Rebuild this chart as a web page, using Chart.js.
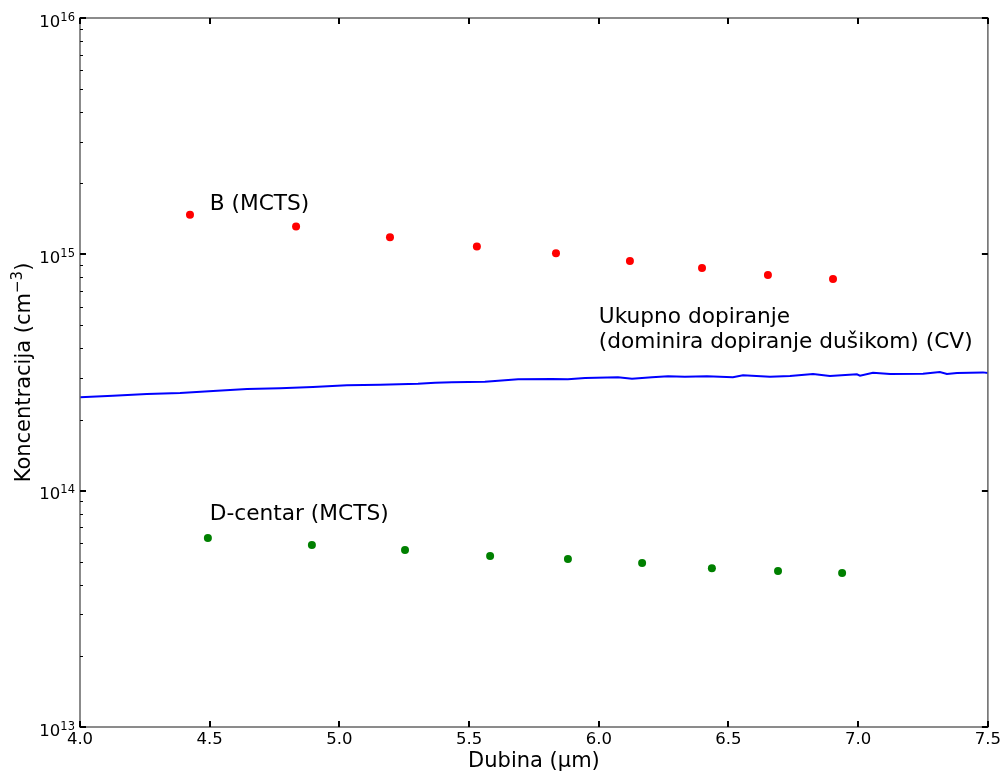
<!DOCTYPE html>
<html>
<head>
<meta charset="utf-8">
<script src="https://cdn.jsdelivr.net/npm/chart.js@4.4.1/dist/chart.umd.min.js"></script>
<style>
html,body{margin:0;padding:0;background:#fff;}
#wrap{width:1004px;height:776px;}
</style>
</head>
<body>
<div id="wrap"><canvas id="c" width="1004" height="776"></canvas></div>
<script>
// ---- data ----
const bDepth = [4.424, 4.833, 5.195, 5.530, 5.835, 6.120, 6.398, 6.652, 6.903];
const bConc  = [1.47e15, 1.31e15, 1.18e15, 1.08e15, 1.01e15, 9.37e14, 8.75e14, 8.17e14, 7.86e14];

const dDepth = [4.493, 4.894, 5.253, 5.581, 5.881, 6.167, 6.436, 6.691, 6.938];
const dConc  = [6.30e13, 5.89e13, 5.61e13, 5.29e13, 5.14e13, 4.94e13, 4.70e13, 4.57e13, 4.48e13];

const cvDepth = [4.000, 4.127, 4.258, 4.386, 4.513, 4.644, 4.771, 4.898, 5.029, 5.157,
                 5.303, 5.369, 5.434, 5.561, 5.600, 5.689, 5.820, 5.881, 5.947, 6.074,
                 6.128, 6.205, 6.267, 6.332, 6.417, 6.517, 6.556, 6.660, 6.737, 6.826,
                 6.891, 6.995, 7.007, 7.057, 7.123, 7.250, 7.315, 7.342, 7.381, 7.481, 7.500];
const cvConc  = [2.482e14, 2.521e14, 2.563e14, 2.588e14, 2.639e14, 2.692e14, 2.710e14, 2.744e14, 2.790e14, 2.807e14,
                 2.834e14, 2.862e14, 2.873e14, 2.890e14, 2.910e14, 2.958e14, 2.967e14, 2.958e14, 2.996e14, 3.017e14,
                 2.975e14, 3.017e14, 3.046e14, 3.034e14, 3.046e14, 3.017e14, 3.075e14, 3.034e14, 3.055e14, 3.114e14,
                 3.055e14, 3.105e14, 3.063e14, 3.154e14, 3.114e14, 3.123e14, 3.176e14, 3.114e14, 3.144e14, 3.166e14, 3.144e14];

const xTickValues = [4.0, 4.5, 5.0, 5.5, 6.0, 6.5, 7.0, 7.5];
const yTickValues = [1e13, 1e14, 1e15, 1e16];
const yTickExponents = ['13', '14', '15', '16'];

const annotations = [
  {text: 'B (MCTS)', x: 4.5, y: 1.63e15},
  {text: 'D-centar (MCTS)', x: 4.5, y: 7.96e13},
  {text: 'Ukupno dopiranje', x: 6.0, y: 5.43e14},
  {text: '(dominira dopiranje dušikom) (CV)', x: 6.0, y: 4.26e14}
];

const FONT = "'DejaVu Sans', sans-serif";

const framePlugin = {
  id: 'frame',
  afterDraw(chart) {
    const ctx = chart.ctx;
    const {left, right, top, bottom} = chart.chartArea;
    const xs = chart.scales.x, ys = chart.scales.y;
    ctx.save();
    // frame
    ctx.strokeStyle = '#666';
    ctx.lineWidth = 1.5;
    ctx.strokeRect(left, top, right - left, bottom - top);
    ctx.strokeStyle = '#000';
    const line = (x1, y1, x2, y2, w) => {
      ctx.lineWidth = w; ctx.beginPath(); ctx.moveTo(x1, y1); ctx.lineTo(x2, y2); ctx.stroke();
    };
    // x major ticks (bottom & top, inward)
    xTickValues.forEach(v => {
      const px = Math.round(xs.getPixelForValue(v));
      line(px, bottom, px, bottom - 6, 2);
      line(px, top, px, top + 6, 2);
    });
    // y major ticks (left & right)
    yTickValues.forEach(v => {
      const py = Math.round(ys.getPixelForValue(v));
      line(left, py, left + 6, py, 2);
      line(right, py, right - 6, py, 2);
    });
    // y minor ticks (left only)
    for (let e = 13; e < 16; e++) {
      for (let m = 2; m <= 9; m++) {
        const py = Math.round(ys.getPixelForValue(m * Math.pow(10, e))) + 0.5;
        line(left, py, left + 3, py, 1);
      }
    }
    // y tick labels: 10 with superscript exponent
    ctx.fillStyle = '#000';
    ctx.textBaseline = 'alphabetic';
    yTickValues.forEach((v, i) => {
      const py = ys.getPixelForValue(v);
      const exp = yTickExponents[i];
      ctx.font = '11.5px ' + FONT;
      ctx.textAlign = 'right';
      const ew = ctx.measureText(exp).width;
      const xr = left - 5;
      ctx.fillText(exp, xr, py + 2.5);
      ctx.font = '16.5px ' + FONT;
      ctx.fillText('10', xr - ew, py + 8.5);
    });
    // y axis title with superscript
    {
      const cx = 22, cy = (top + bottom) / 2;
      ctx.save();
      ctx.translate(cx, cy);
      ctx.rotate(-Math.PI / 2);
      ctx.textAlign = 'left';
      ctx.textBaseline = 'alphabetic';
      const mainFont = '21px ' + FONT, supFont = '15px ' + FONT;
      ctx.font = mainFont;
      const w1 = ctx.measureText('Koncentracija (cm').width;
      const w3 = ctx.measureText(')').width;
      ctx.font = supFont;
      const w2 = ctx.measureText('\u22123').width;
      const total = w1 + w2 + w3;
      let x0 = -total / 2;
      const base = 7.5;
      ctx.font = mainFont;
      ctx.fillText('Koncentracija (cm', x0, base);
      ctx.font = supFont;
      ctx.fillText('\u22123', x0 + w1, base - 8);
      ctx.font = mainFont;
      ctx.fillText(')', x0 + w1 + w2, base);
      ctx.restore();
    }
    // annotations
    ctx.fillStyle = '#000';
    ctx.font = '21.7px ' + FONT;
    ctx.textAlign = 'left';
    ctx.textBaseline = 'middle';
    annotations.forEach(a => {
      ctx.fillText(a.text, xs.getPixelForValue(a.x), ys.getPixelForValue(a.y));
    });
    ctx.restore();
  }
};

new Chart(document.getElementById('c'), {
  type: 'scatter',
  data: {
    datasets: [
      {
        label: 'CV',
        data: cvDepth.map((d, i) => ({x: d, y: cvConc[i]})),
        showLine: true,
        borderColor: '#0000ff',
        borderWidth: 2,
        pointRadius: 0,
        fill: false,
        tension: 0
      },
      {
        label: 'B (MCTS)',
        data: bDepth.map((d, i) => ({x: d, y: bConc[i]})),
        backgroundColor: '#ff0000',
        borderColor: '#ff0000',
        pointRadius: 4,
        borderWidth: 0
      },
      {
        label: 'D-centar (MCTS)',
        data: dDepth.map((d, i) => ({x: d, y: dConc[i]})),
        backgroundColor: '#008000',
        borderColor: '#008000',
        pointRadius: 4,
        borderWidth: 0
      }
    ]
  },
  options: {
    responsive: false,
    animation: false,
    events: [],
    layout: {padding: {left: 0, top: 18, right: 16, bottom: 0}},
    plugins: {legend: {display: false}, tooltip: {enabled: false}},
    scales: {
      x: {
        type: 'linear',
        min: 4.0, max: 7.5,
        afterBuildTicks: s => { s.ticks = xTickValues.map(v => ({value: v})); },
        afterFit: s => { s.height = 49; },
        grid: {display: false, drawTicks: false},
        border: {display: false},
        ticks: {
          color: '#000', padding: 3,
          font: {family: FONT, size: 16.5},
          maxRotation: 0, autoSkip: false,
          callback: v => v.toFixed(1)
        },
        title: {
          display: true, text: 'Dubina (µm)', color: '#000',
          font: {family: FONT, size: 21},
          padding: {top: 0, bottom: 2}
        }
      },
      y: {
        type: 'logarithmic',
        min: 1e13, max: 1e16,
        afterBuildTicks: s => { s.ticks = yTickValues.map(v => ({value: v})); },
        afterFit: s => { s.width = 80; },
        grid: {display: false, drawTicks: false},
        border: {display: false},
        ticks: {display: false},
        title: {display: false}
      }
    }
  },
  plugins: [framePlugin]
});
</script>
</body>
</html>
